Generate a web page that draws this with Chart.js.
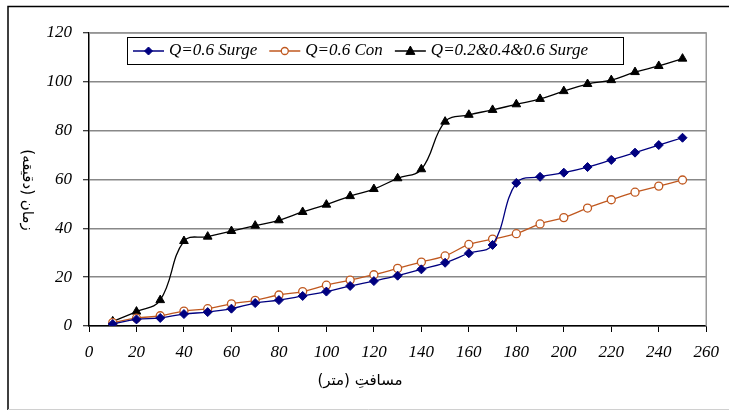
<!DOCTYPE html>
<html>
<head>
<meta charset="utf-8">
<script src="https://cdn.jsdelivr.net/npm/chart.js@4"></script>
<style>
  html, body { margin: 0; padding: 0; background: #fff; }
  #wrap { width: 729px; height: 411px; position: relative; }
</style>
</head>
<body>
<div id="wrap"><canvas id="chart"></canvas></div>
<script>
// distance along furrow (m)
const distances = [10, 20, 30, 40, 50, 60, 70, 80, 90, 100, 110, 120, 130, 140, 150, 160, 170, 180, 190, 200, 210, 220, 230, 240, 250];
// advance time (min)
const surge06 = [0.8, 2.7, 3.3, 4.9, 5.7, 7.1, 9.4, 10.6, 12.3, 14.1, 16.4, 18.4, 20.6, 23.2, 25.9, 29.8, 33.2, 58.6, 61.1, 62.8, 65.1, 68.0, 71.0, 74.1, 77.1];
const con06 = [1.4, 3.2, 4.2, 6.1, 7.1, 9.1, 10.5, 12.7, 14.1, 16.7, 18.8, 21.0, 23.6, 26.2, 28.7, 33.4, 35.6, 37.8, 41.8, 44.4, 48.3, 51.7, 54.8, 57.3, 59.8];
const surgeMix = [1.9, 5.9, 10.6, 34.8, 36.6, 38.9, 41.1, 43.3, 46.7, 49.7, 53.2, 56.1, 60.5, 64.2, 83.7, 86.5, 88.5, 90.8, 93.0, 96.2, 99.1, 100.7, 104.0, 106.5, 109.5];

const seriesLabels = ["Q=0.6 Surge", "Q=0.6 Con", "Q=0.2&0.4&0.6 Surge"];
const xTitle = "مسافتِ (متر)";
const yTitle = "زمان (دقیقه)";

const tickFont = { family: "Liberation Serif", size: 17, style: "italic" };

function pts(vals) {
  return distances.map((d, i) => ({ x: d, y: vals[i] }));
}

function drawMarker(c, style, r, x, y) {
  if (style === "triangle") {
    c.moveTo(x, y - r * 1.1);
    c.lineTo(x + r, y + r * 0.75);
    c.lineTo(x - r, y + r * 0.75);
    c.closePath();
  } else if (style === "rectRot") {
    c.moveTo(x, y - r);
    c.lineTo(x + r, y);
    c.lineTo(x, y + r);
    c.lineTo(x - r, y);
    c.closePath();
  } else {
    c.arc(x, y, r, 0, Math.PI * 2);
  }
}

const framePlugin = {
  id: "frame",
  beforeDraw(chart) {
    const c = chart.ctx;
    c.save();
    c.fillStyle = "#fff";
    c.fillRect(0, 0, chart.width, chart.height);
    c.strokeStyle = "#000";
    c.lineWidth = 1.5;
    c.beginPath();
    c.moveTo(8, 410);
    c.lineTo(8, 6.5);
    c.lineTo(chart.width, 6.5);
    c.stroke();
    c.strokeStyle = "#d0d0d0";
    c.lineWidth = 1;
    c.beginPath();
    c.moveTo(8, 409.5);
    c.lineTo(chart.width, 409.5);
    c.stroke();
    c.restore();
  },
  beforeDatasetsDraw(chart) {
    const a = chart.chartArea;
    const c = chart.ctx;
    c.save();
    c.strokeStyle = "#999";
    c.lineWidth = 1.5;
    c.beginPath();
    c.moveTo(a.left, a.top);
    c.lineTo(a.right, a.top);
    c.lineTo(a.right, a.bottom);
    c.stroke();
    c.restore();
  },
  afterDraw(chart) {
    const c = chart.ctx;
    c.save();
    // axis titles
    c.fillStyle = "#000";
    c.font = "15px 'DejaVu Sans'";
    c.direction = "rtl";
    c.textAlign = "center";
    c.textBaseline = "middle";
    c.fillText(xTitle, 360, 381);
    c.translate(27, 190);
    c.rotate(Math.PI / 2);
    c.fillText(yTitle, 0, 0);
    c.restore();

    // legend box
    c.save();
    c.strokeStyle = "#000";
    c.lineWidth = 1;
    c.fillStyle = "#fff";
    c.fillRect(127, 37, 497, 27);
    c.strokeRect(127.5, 37.5, 496, 27);
    c.font = "italic 17px 'Liberation Serif'";
    c.textBaseline = "middle";
    c.textAlign = "left";
    let x = 133;
    const y = 51;
    chart.data.datasets.forEach(ds => {
      c.strokeStyle = ds.borderColor;
      c.lineWidth = 1.5;
      c.beginPath();
      c.moveTo(x, y);
      c.lineTo(x + 31, y);
      c.stroke();
      c.fillStyle = ds.pointBackgroundColor;
      c.strokeStyle = ds.pointBorderColor;
      c.lineWidth = ds.pointBorderWidth || 1;
      c.beginPath();
      drawMarker(c, ds.pointStyle, ds.legendRadius, x + 15.5, y);
      c.fill();
      c.stroke();
      c.fillStyle = "#000";
      c.fillText(ds.label, x + 36, y);
      x += 36 + c.measureText(ds.label).width + 12;
    });
    c.restore();
  }
};

new Chart(document.getElementById("chart"), {
  type: "line",
  data: {
    datasets: [
      {
        label: seriesLabels[0],
        data: pts(surge06),
        borderColor: "#000080",
        borderWidth: 1.3,
        pointStyle: "rectRot",
        pointRadius: 4.5,
        legendRadius: 4,
        pointBackgroundColor: "#000080",
        pointBorderColor: "#000080",
        pointBorderWidth: 1,
        tension: 0.4
      },
      {
        label: seriesLabels[1],
        data: pts(con06),
        borderColor: "#c0581f",
        borderWidth: 1.3,
        pointStyle: "circle",
        pointRadius: 4,
        legendRadius: 3.5,
        pointBackgroundColor: "#fff",
        pointBorderColor: "#c0581f",
        pointBorderWidth: 1.3,
        tension: 0.4
      },
      {
        label: seriesLabels[2],
        data: pts(surgeMix),
        borderColor: "#000",
        borderWidth: 1.3,
        pointStyle: "triangle",
        pointRadius: 5,
        legendRadius: 4.5,
        pointBackgroundColor: "#000",
        pointBorderColor: "#000",
        pointBorderWidth: 1,
        tension: 0.4
      }
    ]
  },
  options: {
    responsive: true,
    maintainAspectRatio: false,
    animation: false,
    events: [],
    layout: { padding: { top: 33, right: 17, bottom: 0, left: 0 } },
    scales: {
      x: {
        type: "linear",
        min: 0,
        max: 260,
        ticks: { stepSize: 20, color: "#000", font: tickFont, padding: 10, maxRotation: 0 },
        grid: { drawOnChartArea: false, tickLength: 6, color: "#000" },
        border: { color: "#000", width: 1.5 },
        afterFit: s => { s.height = 85; }
      },
      y: {
        min: 0,
        max: 120,
        ticks: { stepSize: 20, color: "#000", font: tickFont, padding: 11 },
        grid: { color: "#888", lineWidth: 1.5, tickLength: 6, tickColor: "#000", tickWidth: 1 },
        border: { color: "#000", width: 1.5 },
        afterFit: s => { s.width = 89; }
      }
    },
    plugins: {
      legend: { display: false },
      tooltip: { enabled: false }
    }
  },
  plugins: [framePlugin]
});
</script>
</body>
</html>
